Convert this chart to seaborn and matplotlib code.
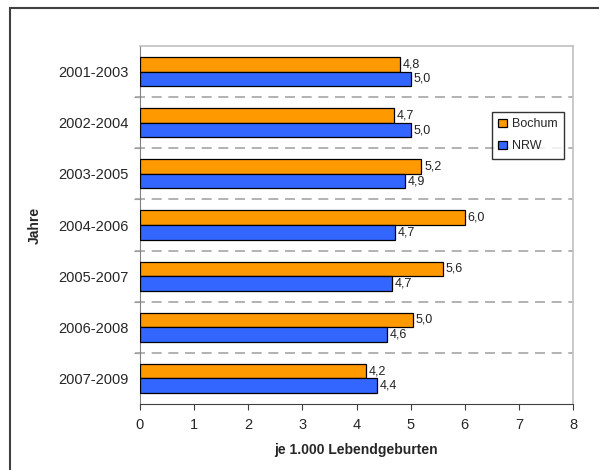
import pandas as pd
import matplotlib.pyplot as plt
import seaborn as sns
from matplotlib.patches import Rectangle
from matplotlib.ticker import FixedLocator

# Data
jahre = ['2001-2003', '2002-2004', '2003-2005', '2004-2006',
         '2005-2007', '2006-2008', '2007-2009']
bochum = [4.8, 4.7, 5.2, 6.0, 5.6, 5.04, 4.18]
nrw = [5.0, 5.0, 4.9, 4.71, 4.66, 4.56, 4.37]
series = ['Bochum', 'NRW']
colors = ['#FF9900', '#3366FF']

df = pd.DataFrame({
    'Jahre': jahre * 2,
    'Wert': bochum + nrw,
    'Gebiet': ['Bochum'] * len(jahre) + ['NRW'] * len(jahre),
})

sns.set_style('white')
plt.rcParams['font.family'] = ['Liberation Sans', 'DejaVu Sans']

fig = plt.figure(figsize=(5.99, 4.70), dpi=100)
ax = fig.add_axes([140 / 599, 1 - 404 / 470, 433 / 599, 358 / 470])

sns.barplot(data=df, y='Jahre', x='Wert', hue='Gebiet', order=jahre,
            hue_order=series, palette=colors, saturation=1, orient='h',
            width=0.57, edgecolor='black', linewidth=0.9, ax=ax, zorder=3)

# value labels with German decimal comma
for cont in ax.containers:
    vals = cont.datavalues
    ax.bar_label(cont, labels=[f'{v:.1f}'.replace('.', ',') for v in vals],
                 padding=2, fontsize=9, color='#222222')

ax.set_xlim(0, 8)
ax.set_ylim(len(jahre) - 0.5, -0.5)
ax.set_xticks(range(0, 9))
ax.tick_params(axis='x', direction='out', length=4, width=0.8, color='#404040',
               labelsize=10.5, pad=6, bottom=True)
ax.tick_params(axis='y', which='major', length=0, labelsize=10.5, pad=8)

# dashed separators between groups
bounds = [i + 0.5 for i in range(len(jahre) - 1)]
ax.yaxis.set_minor_locator(FixedLocator(bounds))
ax.tick_params(axis='y', which='minor', direction='out', length=4,
               width=0.8, color='#808080', left=True)
for b in bounds:
    ax.axhline(b, color='#a6a6a6', lw=1.2, ls=(0, (6, 4)), zorder=1,
               xmin=-0.012, clip_on=False)

for side in ['top', 'right']:
    ax.spines[side].set_color('#c0c0c0')
    ax.spines[side].set_linewidth(1.2)
ax.spines['left'].set_color('#808080')
ax.spines['bottom'].set_color('#404040')
for s in ax.spines.values():
    s.set_visible(True)

ax.set_xlabel('je 1.000 Lebendgeburten', fontsize=10, fontweight='bold',
              labelpad=8)
ax.set_ylabel('Jahre', fontsize=10, fontweight='bold', labelpad=12)

leg = ax.legend(loc='upper left', bbox_to_anchor=(352 / 433, 1 - 66 / 358),
                borderaxespad=0, frameon=True, fancybox=False, fontsize=9,
                handlelength=0.7, handleheight=0.7, handletextpad=0.4,
                borderpad=0.5, labelspacing=0.8, edgecolor='black')
leg.get_frame().set_linewidth(1.0)

# outer frame of the image
fig.patches.append(Rectangle((10 / 599, -0.2), 1.2, 1.2 - 8 / 470,
                             transform=fig.transFigure, fill=False,
                             edgecolor='#404040', lw=1.5))

fig.savefig('out.png', dpi=100)
